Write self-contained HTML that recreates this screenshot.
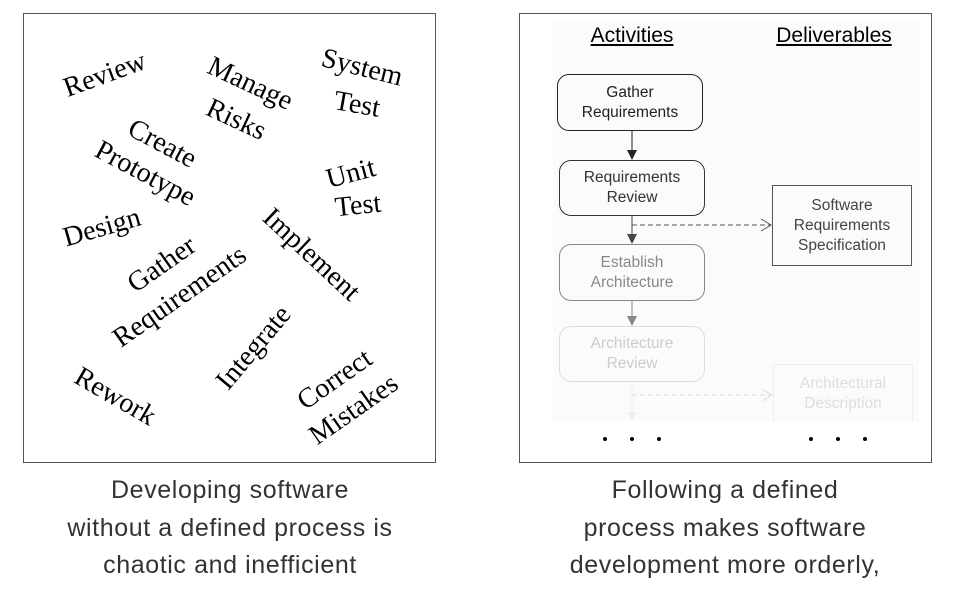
<!DOCTYPE html>
<html><head><meta charset="utf-8"><style>
body{margin:0;width:969px;height:592px;background:#fff;position:relative;overflow:hidden;font-family:"Liberation Sans",sans-serif}
.box{position:absolute;border:1px solid #555;box-sizing:border-box}
.w{position:absolute;font-family:"Liberation Serif",serif;font-size:28px;color:#000;white-space:nowrap;transform-origin:center center}
.cap{position:absolute;width:460px;text-align:center;font-size:25px;font-weight:300;color:#333;line-height:37.5px;letter-spacing:0.6px}
.n{position:absolute;border:1px solid;border-radius:12px;box-sizing:border-box;text-align:center;font-size:15.5px;line-height:20px;display:flex;align-items:center;justify-content:center}
.h{position:absolute;font-size:21px;text-decoration:underline;color:#000;transform:translateX(-50%)}
</style></head><body>
<div class="box" style="left:23px;top:13px;width:413px;height:450px"></div>
<div class="box" style="left:519px;top:13px;width:413px;height:450px"></div>

<div class="w" style="left:105px;top:75px;transform:translate(-50%,-50%) rotate(-20deg)">Review</div>
<div class="w" style="left:250px;top:84px;transform:translate(-50%,-50%) rotate(25deg)">Manage</div>
<div class="w" style="left:236px;top:120px;transform:translate(-50%,-50%) rotate(25deg)">Risks</div>
<div class="w" style="left:362px;top:68px;transform:translate(-50%,-50%) rotate(14deg)">System</div>
<div class="w" style="left:357px;top:105px;transform:translate(-50%,-50%) rotate(10deg)">Test</div>
<div class="w" style="left:162px;top:144px;transform:translate(-50%,-50%) rotate(28deg)">Create</div>
<div class="w" style="left:145px;top:174px;transform:translate(-50%,-50%) rotate(28deg)">Prototype</div>
<div class="w" style="left:351px;top:174px;transform:translate(-50%,-50%) rotate(-15deg)">Unit</div>
<div class="w" style="left:358px;top:206px;transform:translate(-50%,-50%) rotate(-6deg)">Test</div>
<div class="w" style="left:102px;top:228px;transform:translate(-50%,-50%) rotate(-16deg)">Design</div>
<div class="w" style="left:162px;top:265px;transform:translate(-50%,-50%) rotate(-35deg)">Gather</div>
<div class="w" style="left:180px;top:297px;transform:translate(-50%,-50%) rotate(-35deg)">Requirements</div>
<div class="w" style="left:311px;top:255px;transform:translate(-50%,-50%) rotate(43deg)">Implement</div>
<div class="w" style="left:254px;top:348px;transform:translate(-50%,-50%) rotate(-50deg)">Integrate</div>
<div class="w" style="left:115px;top:397px;transform:translate(-50%,-50%) rotate(30deg)">Rework</div>
<div class="w" style="left:335px;top:380px;transform:translate(-50%,-50%) rotate(-35deg)">Correct</div>
<div class="w" style="left:354px;top:410px;transform:translate(-50%,-50%) rotate(-35deg)">Mistakes</div>

<div style="position:absolute;left:553px;top:22px;width:366px;height:400px;background:#fbfbfb"></div>
<div class="h" style="left:632px;top:24px">Activities</div>
<div class="h" style="left:834px;top:24px">Deliverables</div>
<div class="n" style="left:557px;top:74px;width:146px;height:57px;border-color:#222;color:#222">Gather<br>Requirements</div>
<div class="n" style="left:559px;top:160px;width:146px;height:56px;border-color:#333;color:#333">Requirements<br>Review</div>
<div class="n" style="left:559px;top:244px;width:146px;height:57px;border-color:#888;color:#888">Establish<br>Architecture</div>
<div class="n" style="left:559px;top:326px;width:146px;height:56px;border-color:#ddd;color:#ccc">Architecture<br>Review</div>
<div class="n" style="left:772px;top:185px;width:140px;height:81px;border-radius:0;border-color:#555;color:#444">Software<br>Requirements<br>Specification</div>
<div class="n" style="left:773px;top:364px;width:140px;height:58px;border-radius:0;border-color:#eee;color:#ddd;border-bottom:none">Architectural<br>Description</div>
<svg style="position:absolute;left:0;top:0" width="969" height="592">
<line x1="632" y1="131" x2="632" y2="152" stroke="#222"/><polygon points="627,150 637,150 632,160" fill="#222"/>
<line x1="632" y1="216" x2="632" y2="236" stroke="#444"/><polygon points="627,234 637,234 632,244" fill="#444"/>
<line x1="632" y1="225" x2="771" y2="225" stroke="#555" stroke-dasharray="5,3"/><polyline points="761,219 771,225 761,231" fill="none" stroke="#555"/>
<line x1="632" y1="301" x2="632" y2="318" stroke="#888"/><polygon points="627,316 637,316 632,326" fill="#888"/>
<line x1="632" y1="382" x2="632" y2="414" stroke="#eee"/><polygon points="627,412 637,412 632,420" fill="#eee"/>
<line x1="632" y1="395" x2="772" y2="395" stroke="#ddd" stroke-dasharray="5,3"/><polyline points="762,389 772,395 762,401" fill="none" stroke="#ddd"/>
<g fill="#000"><circle cx="605" cy="439" r="2"/><circle cx="632" cy="439" r="2"/><circle cx="659" cy="439" r="2"/><circle cx="811" cy="439" r="2"/><circle cx="838" cy="439" r="2"/><circle cx="865" cy="439" r="2"/></g>
</svg>

<div class="cap" style="left:0;top:472px">Developing software<br>without a defined process is<br>chaotic and inefficient</div>
<div class="cap" style="left:495px;top:472px">Following a defined<br>process makes software<br>development more orderly,</div>
</body></html>
